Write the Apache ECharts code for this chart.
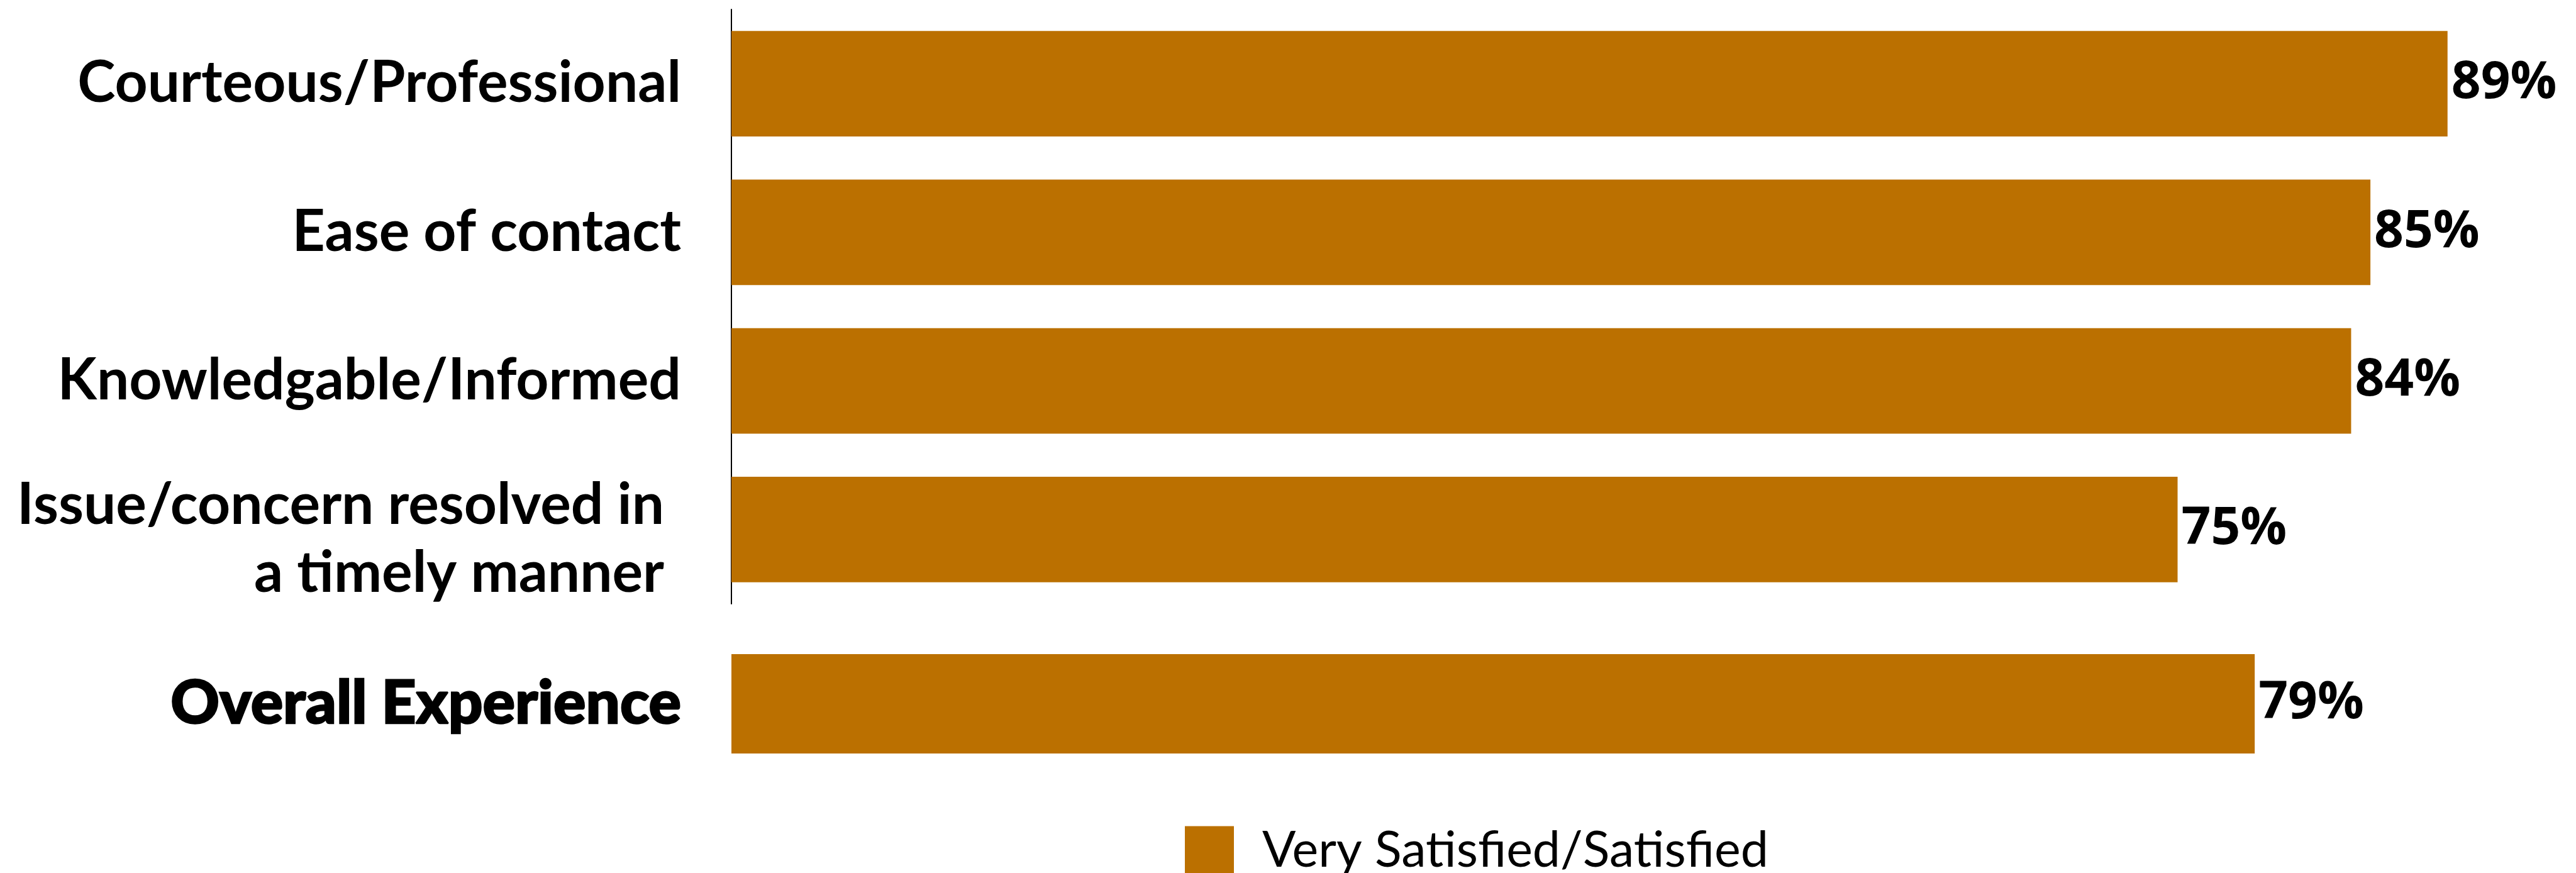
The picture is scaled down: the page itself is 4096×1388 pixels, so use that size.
<!DOCTYPE html>
<html>
<head>
<meta charset="utf-8">
<title>Satisfaction</title>
<script src="https://cdn.jsdelivr.net/npm/echarts@6/dist/echarts.min.js"></script>
<style>
  html, body { margin: 0; padding: 0; background: #ffffff; }
  #chart { width: 4096px; height: 1388px; }
</style>
</head>
<body>
<div id="chart"></div>
<script>
// Attribute ratings (share answering Very Satisfied/Satisfied, %)
const categories = [
  'Courteous/Professional',
  'Ease of contact',
  'Knowledgable/Informed',
  'Issue/concern resolved in\na timely manner'
];
const values = [89, 85, 84, 75];

// Overall rating, drawn in its own band below the attributes
const overallCategories = ['Overall Experience'];
const overallValues = [79];

const seriesName = 'Very Satisfied/Satisfied';

const BAR_COLOR = '#BB7000';
const LABEL_FONT = 'Lato, "Noto Sans", sans-serif';
const VALUE_FONT = '"Open Sans", "Noto Sans", sans-serif';
const LABEL_SIZE = 91;

const chart = echarts.init(document.getElementById('chart'), null, { renderer: 'canvas' });

const valueLabel = {
  show: true,
  position: 'right',
  distance: 6,
  formatter: p => p.value + '%',
  color: '#000',
  fontFamily: VALUE_FONT,
  fontWeight: 700,
  fontSize: 82
};

const catLabelBase = {
  color: '#000',
  fontFamily: LABEL_FONT,
  fontWeight: 700,
  fontSize: LABEL_SIZE,
  margin: 80,
  lineHeight: 108
};

// Two-line labels sit a little lower than the band centre
const categoryItems = categories.map(c =>
  c.indexOf('\n') >= 0 ? { value: c, textStyle: { padding: [32, 0, 0, 0] } } : c
);

chart.setOption({
  animation: false,
  backgroundColor: '#ffffff',
  legend: {
    data: [seriesName],
    left: 1879,
    top: 1308,
    itemWidth: 78,
    itemHeight: 78,
    icon: 'rect',
    textStyle: {
      color: '#000',
      fontFamily: LABEL_FONT,
      fontWeight: 400,
      fontSize: 79,
      padding: [0, 0, 0, 40]
    }
  },
  grid: [
    { left: 1163, top: 15, width: 3066, height: 945, outerBoundsMode: 'none' },
    { left: 1163, top: 1040, width: 3066, height: 158, outerBoundsMode: 'none' }
  ],
  xAxis: [
    { gridIndex: 0, type: 'value', min: 0, max: 100, show: false },
    { gridIndex: 1, type: 'value', min: 0, max: 100, show: false }
  ],
  yAxis: [
    {
      gridIndex: 0,
      type: 'category',
      inverse: true,
      data: categoryItems,
      axisLine: { show: true, lineStyle: { color: '#000', width: 2 } },
      axisTick: { show: false },
      splitLine: { show: false },
      axisLabel: Object.assign({}, catLabelBase, {
        formatter: v => v.indexOf('\n') >= 0
          ? v.split('\n').map(s => '{pad|' + s + '}').join('\n')
          : v,
        rich: {
          pad: {
            color: '#000',
            fontFamily: LABEL_FONT,
            fontWeight: 700,
            fontSize: LABEL_SIZE,
            lineHeight: 108,
            padding: [0, 27, 0, 0]
          }
        }
      })
    },
    {
      gridIndex: 1,
      type: 'category',
      inverse: true,
      data: overallCategories,
      axisLine: { show: false },
      axisTick: { show: false },
      splitLine: { show: false },
      axisLabel: Object.assign({}, catLabelBase, {
        fontWeight: 900,
        fontSize: 96,
        textBorderColor: '#000',
        textBorderWidth: 2.5
      })
    }
  ],
  series: [
    {
      name: seriesName,
      type: 'bar',
      xAxisIndex: 0,
      yAxisIndex: 0,
      data: values,
      barCategoryGap: '29%',
      itemStyle: { color: BAR_COLOR },
      label: valueLabel
    },
    {
      name: seriesName,
      type: 'bar',
      xAxisIndex: 1,
      yAxisIndex: 1,
      data: overallValues,
      barCategoryGap: '0%',
      itemStyle: { color: BAR_COLOR },
      label: valueLabel
    }
  ]
});
</script>
</body>
</html>
